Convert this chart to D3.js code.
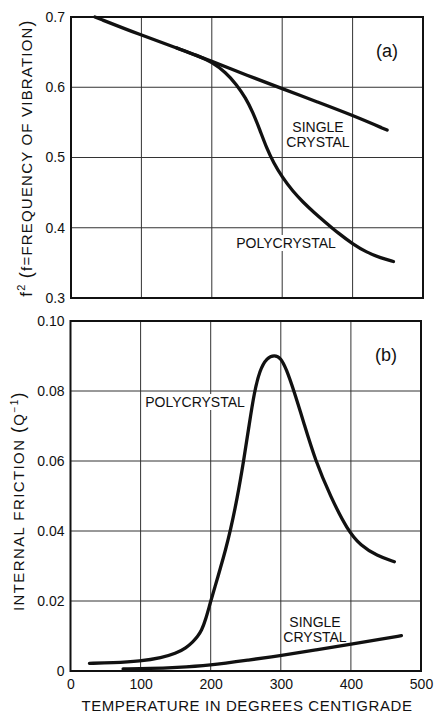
<!DOCTYPE html>
<html>
<head>
<meta charset="utf-8">
<script src="https://cdn.jsdelivr.net/npm/d3@7"></script>
<style>
  html, body { margin: 0; padding: 0; background: #fff; }
  svg { display: block; }
  text { font-family: "Liberation Sans", Arial, sans-serif; fill: #111; }
</style>
</head>
<body>
<svg id="chart" width="435" height="713"></svg>
<script>
// Temperature ticks shared by both panels
const tempTicks = [0, 100, 200, 300, 400, 500];

// Panel (a): square of the vibration frequency vs temperature
const freqTicks = [0.3, 0.4, 0.5, 0.6, 0.7];
const freqTickLabels = ["0.3", "0.4", "0.5", "0.6", "0.7"];
const freqSingle = [
  [34, 0.700], [100, 0.674], [150, 0.656], [200, 0.637], [250, 0.617],
  [300, 0.598], [350, 0.579], [400, 0.560], [449, 0.539]
];
const freqPoly = [
  [150, 0.656], [180, 0.645], [200, 0.636], [220, 0.621], [235, 0.604],
  [248, 0.585], [258, 0.565], [268, 0.540], [278, 0.513], [288, 0.492],
  [300, 0.472], [315, 0.452], [330, 0.436], [345, 0.422], [360, 0.409],
  [380, 0.392], [400, 0.377], [420, 0.365], [440, 0.357], [458, 0.352]
];

// Panel (b): internal friction vs temperature
const fricTicks = [0, 0.02, 0.04, 0.06, 0.08, 0.10];
const fricTickLabels = ["0", "0.02", "0.04", "0.06", "0.08", "0.10"];
const fricPoly = [
  [27, 0.0022], [60, 0.0023], [100, 0.0028], [130, 0.0038], [150, 0.0050],
  [165, 0.0066], [175, 0.0084], [181, 0.0098], [187, 0.0115], [193, 0.0148],
  [199, 0.0192], [206, 0.0240], [214, 0.0295], [221, 0.0345], [228, 0.0400],
  [238, 0.0495], [247, 0.0600], [255, 0.0705], [262, 0.0795], [270, 0.0860],
  [280, 0.0895], [291, 0.0903], [300, 0.0895], [308, 0.0862], [318, 0.0805],
  [333, 0.0708], [349, 0.0603], [371, 0.0498], [395, 0.0403], [414, 0.0358],
  [437, 0.0330], [462, 0.0312]
];
const fricSingle = [
  [75, 0.0006], [114, 0.0007], [150, 0.0010], [198, 0.0016], [256, 0.0032],
  [300, 0.0044], [350, 0.0060], [400, 0.0077], [440, 0.0090], [472, 0.0101]
];

const svg = d3.select("#chart");

function panel(opts) {
  const { xRange, yDomain, yRange, yTicks, yLabels, showX } = opts;
  const x = d3.scaleLinear().domain([0, 500]).range(xRange);
  const y = d3.scaleLinear().domain(yDomain).range(yRange);
  const g = svg.append("g");

  // grid
  const inner = tempTicks.slice(1, -1);
  g.selectAll(".vgrid").data(inner).join("line")
    .attr("x1", d => x(d)).attr("x2", d => x(d))
    .attr("y1", yRange[0]).attr("y2", yRange[1])
    .attr("stroke", "#333").attr("stroke-width", 1);
  g.selectAll(".hgrid").data(yTicks.slice(1, -1)).join("line")
    .attr("x1", xRange[0]).attr("x2", xRange[1])
    .attr("y1", d => y(d)).attr("y2", d => y(d))
    .attr("stroke", "#333").attr("stroke-width", 1);

  // y tick labels via axis generator, domain and tick lines hidden
  const yAxis = d3.axisLeft(y).tickValues(yTicks)
    .tickFormat((d, i) => yLabels[i]).tickSize(0).tickPadding(6);
  const ya = g.append("g").attr("transform", `translate(${xRange[0]},0)`).call(yAxis);
  ya.select(".domain").remove();
  ya.selectAll("text").style("font-size", "14px").attr("fill", "#111")
    .style("font-family", "Liberation Sans, Arial, sans-serif");

  if (showX) {
    const xAxis = d3.axisBottom(x).tickValues(tempTicks).tickSize(0).tickPadding(8);
    const xa = g.append("g").attr("transform", `translate(0,${yRange[0]})`).call(xAxis);
    xa.select(".domain").remove();
    xa.selectAll("text").style("font-size", "14px").attr("fill", "#111")
      .style("font-family", "Liberation Sans, Arial, sans-serif");
  }
  return { g, x, y };
}

function frame(p, xRange, yRange) {
  p.g.append("rect")
    .attr("x", xRange[0]).attr("y", yRange[1])
    .attr("width", xRange[1] - xRange[0]).attr("height", yRange[0] - yRange[1])
    .attr("fill", "none").attr("stroke", "#111").attr("stroke-width", 2);
}

function label(p, lines, cx, baseline, lineH) {
  const t = p.g.append("g");
  const txt = t.append("text").attr("text-anchor", "middle")
    .style("font-size", "14px");
  lines.forEach((s, i) => {
    txt.append("tspan").attr("x", cx).attr("y", baseline + i * lineH).text(s);
  });
  const bb = txt.node().getBBox();
  t.insert("rect", "text")
    .attr("x", bb.x - 1).attr("y", bb.y).attr("width", bb.width + 2).attr("height", bb.height)
    .attr("fill", "#fff");
}

function curve(p, data) {
  const line = d3.line().x(d => p.x(d[0])).y(d => p.y(d[1])).curve(d3.curveBasis);
  p.g.append("path").datum(data).attr("d", line)
    .attr("fill", "none").attr("stroke", "#111").attr("stroke-width", 3.3)
    .attr("stroke-linecap", "round").attr("stroke-linejoin", "round");
}

// ---- panel (a)
const aX = [71, 423], aY = [298, 17];
const a = panel({ xRange: aX, yDomain: [0.3, 0.7], yRange: aY,
  yTicks: freqTicks, yLabels: freqTickLabels, showX: false });
label(a, ["SINGLE", "CRYSTAL"], 318, 132, 15);
label(a, ["POLYCRYSTAL"], 286, 248, 15);
curve(a, freqSingle);
curve(a, freqPoly);
frame(a, aX, aY);
a.g.append("text").attr("x", 387).attr("y", 57).attr("text-anchor", "middle")
  .style("font-size", "18px").text("(a)");

// ---- panel (b)
const bX = [70.5, 421], bY = [671, 321];
const b = panel({ xRange: bX, yDomain: [0, 0.10], yRange: bY,
  yTicks: fricTicks, yLabels: fricTickLabels, showX: true });
label(b, ["POLYCRYSTAL"], 195, 407, 15);
label(b, ["SINGLE", "CRYSTAL"], 315, 626.5, 15);
curve(b, fricPoly);
curve(b, fricSingle);
frame(b, bX, bY);
b.g.append("text").attr("x", 386).attr("y", 361).attr("text-anchor", "middle")
  .style("font-size", "18px").text("(b)");

// ---- axis titles
svg.append("text").attr("x", 247).attr("y", 711).attr("text-anchor", "middle")
  .style("font-size", "15px").style("letter-spacing", "0.6px")
  .text("TEMPERATURE IN DEGREES CENTIGRADE");

const t1 = svg.append("text").attr("text-anchor", "middle")
  .attr("transform", "translate(32,158) rotate(-90)")
  .style("font-size", "15px").style("letter-spacing", "1.2px");
t1.append("tspan").style("font-size", "17px").text("f");
t1.append("tspan").attr("dy", -7).style("font-size", "11px").text("2");
t1.append("tspan").attr("dy", 7).text(" ");
t1.append("tspan").style("font-size", "18px").text("(");
t1.append("tspan").text("f=FREQUENCY OF VIBRATION");
t1.append("tspan").style("font-size", "18px").text(")");

const t2 = svg.append("text").attr("text-anchor", "middle")
  .attr("transform", "translate(24,501) rotate(-90)")
  .style("font-size", "15px").style("letter-spacing", "1.4px");
t2.append("tspan").text("INTERNAL FRICTION ");
t2.append("tspan").style("font-size", "18px").text("(");
t2.append("tspan").text("Q");
t2.append("tspan").attr("dy", -6).style("font-size", "10px").text("−1");
t2.append("tspan").attr("dy", 6).style("font-size", "18px").text(")");
</script>
</body>
</html>
